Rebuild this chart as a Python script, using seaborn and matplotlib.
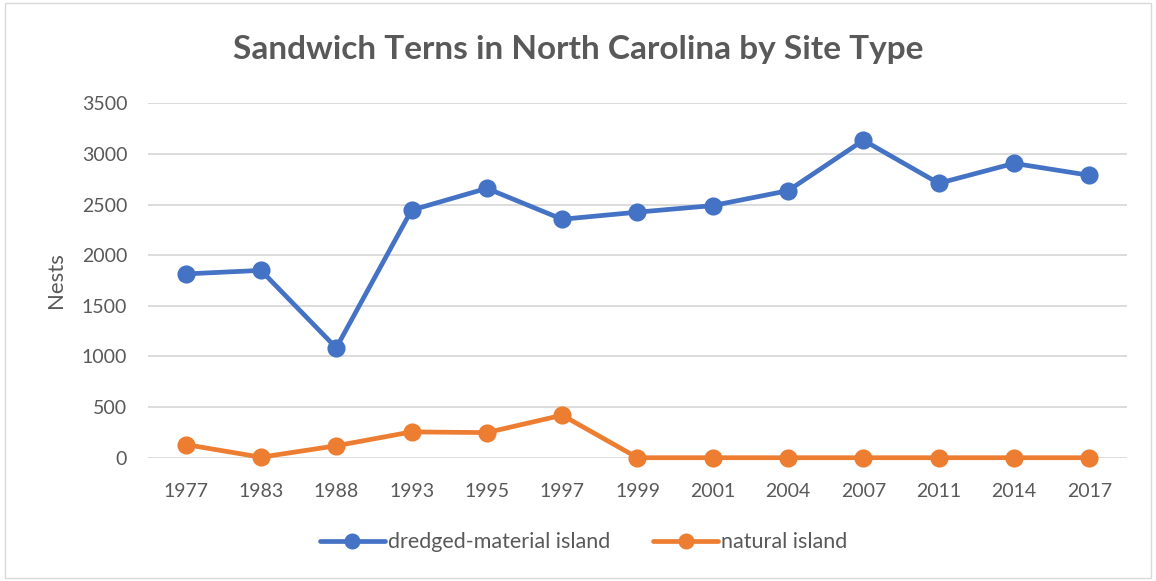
import pandas as pd
import seaborn as sns
import matplotlib.pyplot as plt
from matplotlib.patches import Rectangle
from matplotlib.lines import Line2D

years = ['1977', '1983', '1988', '1993', '1995', '1997', '1999',
         '2001', '2004', '2007', '2011', '2014', '2017']
dredged = [1815, 1850, 1085, 2445, 2660, 2355, 2425, 2490, 2637, 3135, 2710, 2907, 2789]
natural = [130, 5, 118, 255, 248, 420, 0, 0, 0, 0, 0, 0, 0]
series_names = ['dredged-material island', 'natural island']
colors = ['#4472C4', '#ED7D31']

# long format for seaborn
df = pd.DataFrame({
    'year': years * 2,
    'nests': dredged + natural,
    'site': [series_names[0]] * len(years) + [series_names[1]] * len(years),
})

sns.set_theme(style='white')
plt.rcParams['font.family'] = ['Lato', 'DejaVu Sans']
grey = '#595959'

fig = plt.figure(figsize=(11.56, 5.81), dpi=100)
ax = fig.add_axes([0.128, 0.2122, 0.8469, 0.61])

sns.pointplot(data=df, x='year', y='nests', hue='site', order=years,
              hue_order=series_names, palette=colors, markers='o',
              linestyles='-', linewidth=3.4, markersize=10.5, ax=ax, legend=False)
for ln in ax.lines:
    ln.set_clip_on(False)
    ln.set_zorder(3)

ax.set_ylim(0, 3500)
ax.set_xlim(-0.5, len(years) - 0.5)
ax.set_yticks(range(0, 3501, 500))
ax.yaxis.grid(True, color='#D9D9D9', linewidth=1.3)
ax.set_axisbelow(True)
for s in ax.spines.values():
    s.set_visible(False)
ax.tick_params(axis='both', length=0, labelsize=14, labelcolor=grey)
ax.tick_params(axis='x', pad=18)
ax.tick_params(axis='y', pad=15)
ax.set_xlabel('')
ax.set_ylabel('Nests', fontsize=16, color=grey, labelpad=11)

fig.suptitle('Sandwich Terns in North Carolina by Site Type', x=0.5, y=0.94,
             fontsize=24, fontweight='bold', color=grey)

handles = [Line2D([], [], color=c, marker='o', linewidth=3.4, markersize=10.5)
           for c in colors]
fig.legend(handles, series_names, loc='center', bbox_to_anchor=(0.505, 0.067),
           ncol=2, frameon=False, fontsize=15.5, labelcolor=grey,
           handlelength=3.0, handletextpad=0.15, columnspacing=2.0)

fig.patches.append(Rectangle((0.004, 0.006), 0.992, 0.988, transform=fig.transFigure,
                             fill=False, edgecolor='#D9D9D9', linewidth=1))

fig.savefig('out.png', dpi=100)
